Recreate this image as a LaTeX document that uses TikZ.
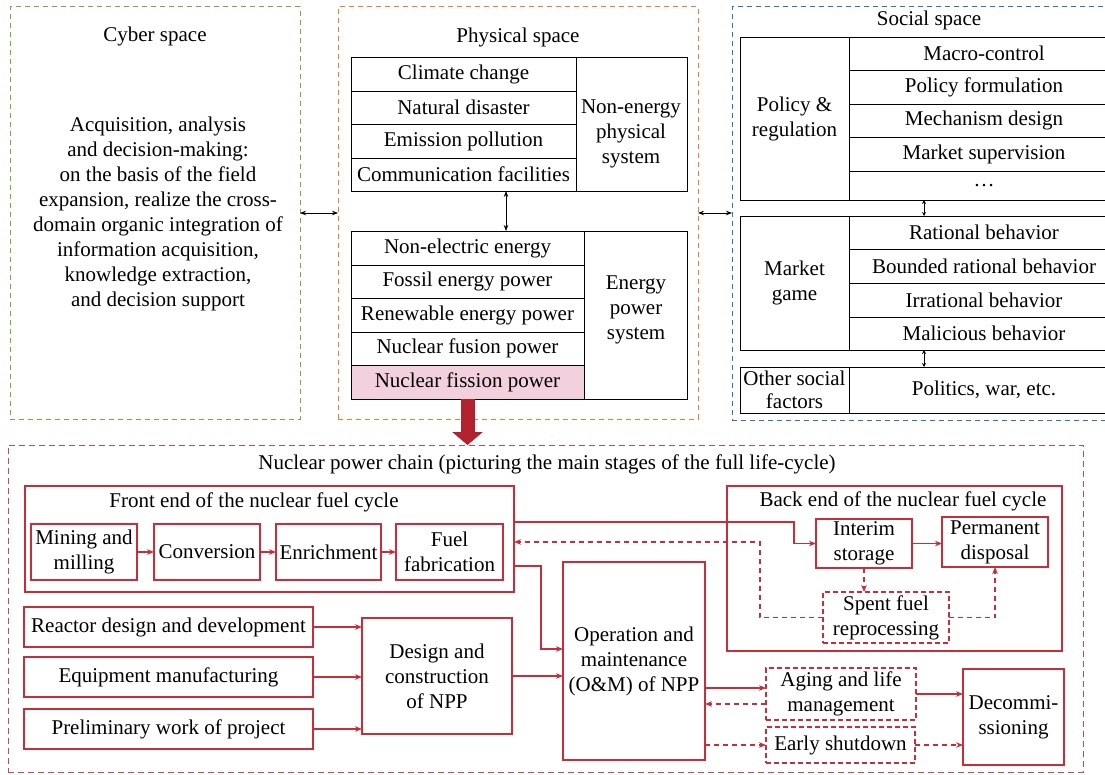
\documentclass[tikz,border=0pt]{standalone}
\usepackage{fontspec}
\setmainfont{Liberation Serif}
\usetikzlibrary{arrows.meta,calc}
\definecolor{cgreen}{RGB}{112,173,71}
\definecolor{corange}{RGB}{237,125,49}
\definecolor{cblue}{RGB}{46,117,182}
\definecolor{cred}{RGB}{200,45,58}
\definecolor{cchain}{RGB}{195,75,85}
\definecolor{cpink}{RGB}{242,208,222}
\definecolor{cbig}{RGB}{178,34,46}
\newcommand\cell[7][]{\node[rectangle,#1,minimum width={(#5-#3)*1pt},minimum height={(#6-#4)*1pt}] (#2) at ({(#3+#5)/2},{(#4+#6)/2}) {#7};}
\tikzset{
  bbox/.style={draw=black,line width=0.9pt},
  rbox/.style={draw=cred,line width=1.1pt},
  rdbox/.style={draw=cred,line width=1.1pt,dash pattern=on 5pt off 3pt},
  spacebox/.style={line width=1pt,dash pattern=on 5pt off 4pt},
  barr/.style={{Stealth[length=6pt,width=4.5pt]}-{Stealth[length=6pt,width=4.5pt]},line width=0.8pt},
  sbarr/.style={{Stealth[length=4pt,width=4pt]}-{Stealth[length=4pt,width=4pt]},line width=0.8pt},
  rarr/.style={-{Stealth[length=7pt,width=5.5pt]},draw=cred,line width=1.1pt},
  rdarr/.style={rarr,dash pattern=on 5pt off 4pt},
  bigarr/.style={-{Triangle[width=30pt,length=13pt]},draw=cbig,line width=14pt}
}
\begin{document}
\begin{tikzpicture}[x=1pt,y=-1pt,every node/.style={font=\fontsize{21}{25}\selectfont,inner sep=0pt,outer sep=0pt,align=center}]
\useasboundingbox (0,0) rectangle (1105,775);
% spaces
\cell[spacebox,draw=cgreen]{cyber}{10}{7}{300}{419}{}
\cell[spacebox,draw=corange]{physical}{338}{7}{698}{419}{}
\cell[spacebox,draw=cblue]{social}{732}{7}{1125}{420}{}
\node (cybert) at (155,36) {Cyber space};
\node (cyberb) at (158,214) {Acquisition, analysis\\and decision-making:\\on the basis of the field\\expansion, realize the cross-\\domain organic integration of\\information acquisition,\\knowledge extraction,\\and decision support};
\node (physt) at (518,37) {Physical space};
\node (soct) at (929,20) {Social space};
% non-energy
\cell[bbox]{ne}{351}{57}{687}{191}{}
\cell[bbox]{ne1}{351}{57}{576}{91}{Climate change}
\cell[bbox]{ne2}{351}{91}{576}{124}{Natural disaster}
\cell[bbox]{ne3}{351}{124}{576}{158}{Emission pollution}
\cell[bbox]{ne4}{351}{158}{576}{191}{Communication facilities}
\node (net) at (631,134) {Non-energy\\physical\\system};
% energy
\cell[bbox]{en}{351}{231}{687}{399}{}
\cell[bbox]{en1}{351}{231}{584}{265}{Non-electric energy}
\cell[bbox]{en2}{351}{265}{584}{298}{Fossil energy power}
\cell[bbox]{en3}{351}{298}{584}{332}{Renewable energy power}
\cell[bbox]{en4}{351}{332}{584}{365}{Nuclear fusion power}
\cell[bbox,fill=cpink]{en5}{351}{365}{584}{399}{Nuclear fission power}
\node (ent) at (636,310) {Energy\\power\\system};
% social
\cell[bbox]{pol}{740}{37}{1119}{200}{}
\cell[bbox]{poll}{740}{37}{849}{200}{Policy \&\\regulation}
\cell[bbox]{pol1}{849}{37}{1119}{70}{Macro-control}
\cell[bbox]{pol2}{849}{70}{1119}{104}{Policy formulation}
\cell[bbox]{pol3}{849}{104}{1119}{137}{Mechanism design}
\cell[bbox]{pol4}{849}{137}{1119}{171}{Market supervision}
\cell[bbox]{pol5}{849}{171}{1119}{200}{…}
\cell[bbox]{mk}{740}{216}{1119}{350}{}
\cell[bbox]{mkl}{740}{216}{849}{350}{Market\\game}
\cell[bbox]{mk1}{849}{216}{1119}{249}{Rational behavior}
\cell[bbox]{mk2}{849}{249}{1119}{283}{Bounded rational behavior}
\cell[bbox]{mk3}{849}{283}{1119}{317}{Irrational behavior}
\cell[bbox]{mk4}{849}{317}{1119}{350}{Malicious behavior}
\cell[bbox]{ot}{740}{367}{1119}{413}{}
\cell[bbox,font=\fontsize{21}{23}\selectfont]{otl}{740}{367}{849}{413}{Other social\\factors}
\cell[bbox]{otr}{849}{367}{1119}{413}{Politics, war, etc.}
% top arrows
\draw[barr] (cyber.east) -- (cyber.east -| physical.west);
\draw[barr] (physical.east) -- (physical.east -| social.west);
\draw[barr] ([xshift=-13pt]ne.south) -- ([xshift=-13pt]en.north);
\draw[sbarr] ([xshift=-5.5pt]pol.south) -- ([xshift=-5.5pt]mk.north);
\draw[sbarr] ([xshift=-5.5pt]mk.south) -- ([xshift=-5.5pt]ot.north);
% chain
\cell[draw=cchain,line width=1pt,dash pattern=on 6pt off 4pt]{chain}{8}{445}{1083}{772}{}
\draw[bigarr] (en5.south) -- (en5.south |- chain.north);
\node (chaint) at (547,464) {Nuclear power chain (picturing the main stages of the full life-cycle)};
\cell[rbox]{front}{25}{486}{514}{592}{}
\node (frontt) at (254,502) {Front end of the nuclear fuel cycle};
\cell[rbox]{mining}{31}{524}{137}{580}{Mining and\\milling}
\cell[rbox]{conv}{154}{524}{260}{580}{Conversion}
\cell[rbox]{enr}{276}{524}{381}{580}{Enrichment}
\cell[rbox]{fuel}{396}{524}{503}{580}{Fuel\\fabrication}
\cell[rbox]{back}{727}{486}{1062}{651}{}
\node (backt) at (903,501) {Back end of the nuclear fuel cycle};
\cell[rbox]{interim}{816}{519}{912}{568}{Interim\\storage}
\cell[rbox]{perm}{942}{517}{1048}{567}{Permanent\\disposal}
\cell[rdbox]{spent}{823}{592}{949}{643}{Spent fuel\\reprocessing}
\cell[rbox]{reactor}{24}{607}{313}{647}{Reactor design and development}
\cell[rbox]{equip}{24}{657}{313}{697}{Equipment manufacturing}
\cell[rbox]{prelim}{24}{709}{313}{749}{Preliminary work of project}
\cell[rbox]{design}{362}{618}{512}{734}{Design and\\construction\\of NPP}
\cell[rbox]{om}{563}{562}{705}{760}{Operation and\\maintenance\\(O\&M) of NPP}
\cell[rdbox]{aging}{766}{668}{916}{720}{Aging and life\\management}
\cell[rdbox]{early}{766}{727}{915}{763}{Early shutdown}
\cell[rbox]{decom}{963}{669}{1064}{765}{Decommi-\\ssioning}
% chain connectors
\draw[rarr] (mining.east) -- (conv.west);
\draw[rarr] (conv.east) -- (enr.west);
\draw[rarr] (enr.east) -- (fuel.west);
\draw[rarr] ([yshift=17pt]front.east) -| ([xshift=-22pt]interim.west) -- (interim.west);
\draw[rdarr] (spent.west) -- ++(-63,0) |- ([yshift=-3pt]front.east);
\draw[rarr] ([yshift=-27pt]front.east) -| ([xshift=-22pt,yshift=12pt]om.west) -- ([yshift=12pt]om.west);
\draw[rarr] (interim.east) -- (interim.east -| perm.west);
\draw[rdarr] (interim.south) -- (interim.south |- spent.north);
\draw[rdarr] (spent.east) -| (perm.south);
\draw[rarr] (reactor.east) -- (reactor.east -| design.west);
\draw[rarr] (equip.east) -- (equip.east -| design.west);
\draw[rarr] (prelim.east) -- (prelim.east -| design.west);
\draw[rarr] (design.east) -- (design.east -| om.west);
\coordinate (ag1) at ([yshift=6pt]aging.west);
\coordinate (ag2) at ([yshift=-10pt]aging.west);
\draw[rarr] (om.east |- ag1) -- (ag1);
\draw[rdarr] (ag2) -- (om.east |- ag2);
\draw[rdarr] (om.east |- early.west) -- (early.west);
\draw[rarr] (aging.east) -- (aging.east -| decom.west);
\draw[rdarr] (early.east) -- (early.east -| decom.west);
\end{tikzpicture}
\end{document}
